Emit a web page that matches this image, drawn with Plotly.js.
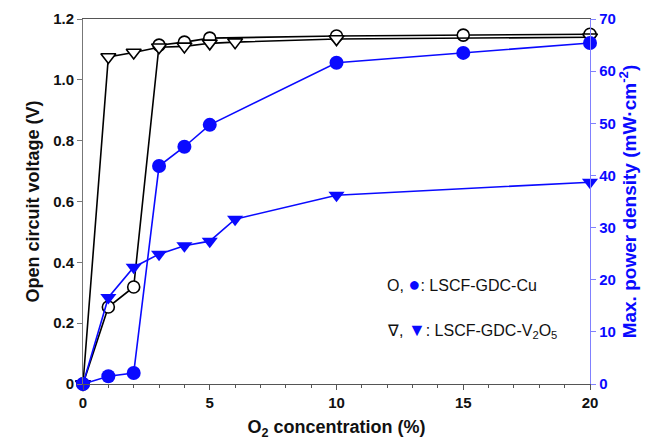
<!DOCTYPE html>
<html><head><meta charset="utf-8">
<script src="https://cdn.plot.ly/plotly-3.0.1.min.js"></script>
<style>html,body{margin:0;padding:0;background:#fff}#c{width:656px;height:444px}</style>
</head><body><div id="c"></div>
<script>
const xCu = [0, 1, 2, 3, 4, 5, 10, 15, 20];
const ocvCu = [0, 0.253, 0.319, 1.114, 1.124, 1.137, 1.144, 1.147, 1.150];
const pdCu = [0, 1.5, 2.1, 41.8, 45.5, 49.7, 61.6, 63.5, 65.4];
const xV = [0, 1, 2, 3, 4, 5, 6, 10, 20];
const ocvV = [0, 1.075, 1.09, 1.107, 1.11, 1.12, 1.124, 1.134, 1.14];
const pdV = [0, 16.6, 22.4, 24.9, 26.5, 27.4, 31.6, 36.2, 38.7];
const xTicks = [0, 5, 10, 15, 20];
const yTicks = [0, 0.2, 0.4, 0.6, 0.8, 1.0, 1.2];
const yTickText = ['0', '0.2', '0.4', '0.6', '0.8', '1.0', '1.2'];
const y2Ticks = [0, 10, 20, 30, 40, 50, 60, 70];

const BLUE = '#0a0aff';
const ff = 'Liberation Sans, Arial, sans-serif';
const tf = {family: ff, size: 15, weight: 'bold', color: '#111'};

const traces = [
  {x: xCu, y: pdCu, yaxis: 'y2', mode: 'lines+markers', cliponaxis: false,
   line: {color: BLUE, width: 1.6}, marker: {symbol: 'circle', size: 14, color: BLUE}},
  {x: xV, y: pdV, yaxis: 'y2', mode: 'lines+markers', cliponaxis: false,
   line: {color: BLUE, width: 1.6}, marker: {symbol: 'triangle-down', size: 14, color: BLUE}},
  {x: xCu, y: ocvCu, mode: 'lines+markers', cliponaxis: false,
   line: {color: '#000', width: 1.6}, marker: {symbol: 'circle', size: 12, color: '#fff', line: {color: '#000', width: 1.6}}},
  {x: xV, y: ocvV, mode: 'lines+markers', cliponaxis: false,
   line: {color: '#000', width: 1.6}, marker: {symbol: 'triangle-down', size: 13, color: '#fff', line: {color: '#000', width: 1.6}}}
];

const layout = {
  width: 656, height: 444, showlegend: false,
  paper_bgcolor: '#fff', plot_bgcolor: '#fff',
  margin: {l: 83, r: 66, t: 19, b: 60},
  xaxis: {range: [0, 20], tickvals: xTicks, showgrid: false, zeroline: false,
    showline: true, linecolor: '#555', linewidth: 1, mirror: true,
    ticks: 'outside', ticklen: 5, tickcolor: '#555', tickfont: tf,
    minor: {dtick: 1, ticks: 'outside', ticklen: 3, tickcolor: '#555'},
    title: {text: 'O<sub>2</sub> concentration (%)', font: {family: ff, size: 18, weight: 'bold', color: '#111'}, standoff: 10}},
  yaxis: {range: [0, 1.2], tickvals: yTicks, ticktext: yTickText, showgrid: false, zeroline: false,
    showline: true, linecolor: '#777', linewidth: 1, ticks: 'outside', ticklen: 5, tickcolor: '#777', tickfont: tf,
    title: {text: 'Open circuit voltage (V)', font: {family: ff, size: 18, weight: 'bold', color: '#111'}, standoff: 8}},
  yaxis2: {range: [0, 70], tickvals: y2Ticks, overlaying: 'y', side: 'right', showgrid: false, zeroline: false,
    showline: true, linecolor: '#8080ff', linewidth: 1.2, ticks: 'outside', ticklen: 5, tickcolor: '#8080ff',
    tickfont: {family: ff, size: 15, weight: 'bold', color: BLUE},
    title: {text: 'Max. power density (mW·cm<sup>-2</sup>)', font: {family: ff, size: 19, weight: 'bold', color: BLUE}, standoff: 6}},
  annotations: [
    {xref: 'paper', yref: 'paper', x: 0.595, y: 0.238, xanchor: 'left', showarrow: false,
     text: 'O, <span style="color:' + BLUE + ';font-size:20px">●</span>: LSCF-GDC-Cu', font: {family: ff, size: 16, color: '#111'}},
    {xref: 'paper', yref: 'paper', x: 0.595, y: 0.112, xanchor: 'left', showarrow: false,
     text: '∇, <span style="color:' + BLUE + ';font-size:18px">▼</span>: LSCF-GDC-V<sub>2</sub>O<sub>5</sub>', font: {family: ff, size: 16, color: '#111'}}
  ]
};
Plotly.newPlot('c', traces, layout, {displayModeBar: false, staticPlot: true});
</script></body></html>
